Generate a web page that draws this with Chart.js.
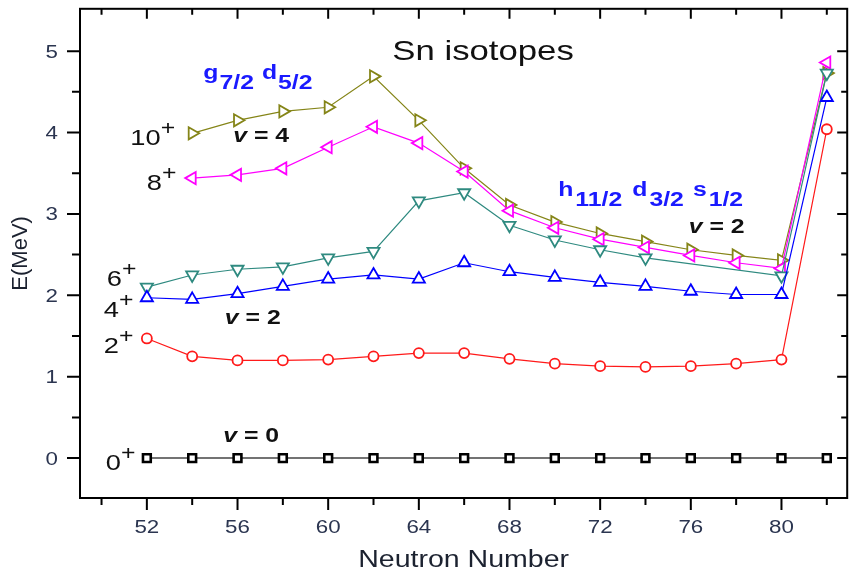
<!DOCTYPE html>
<html lang="en">
<head>
  <meta charset="UTF-8" />
  <title>Sn isotopes</title>
  <script src="https://cdn.jsdelivr.net/npm/chart.js"></script>
  <style>
    body { margin: 0; background: #fff; }
    #wrap { width: 856px; height: 573px; }
  </style>
</head>
<body>
  <div id="wrap"><canvas id="snChart" width="856" height="573"></canvas></div>
  <script>
    // Neutron numbers and level energies (MeV)
    const neutrons = [52, 54, 56, 58, 60, 62, 64, 66, 68, 70, 72, 74, 76, 78, 80, 82];
    const e0  = [0, 0, 0, 0, 0, 0, 0, 0, 0, 0, 0, 0, 0, 0, 0, 0];
    const e2  = [1.47, 1.25, 1.20, 1.20, 1.21, 1.25, 1.29, 1.29, 1.22, 1.16, 1.13, 1.12, 1.13, 1.16, 1.21, 4.04];
    const e4  = [1.97, 1.95, 2.02, 2.11, 2.20, 2.25, 2.20, 2.40, 2.29, 2.22, 2.16, 2.11, 2.05, 2.01, 2.01, 4.43];
    const e6  = [2.10, 2.25, 2.32, 2.35, 2.46, 2.54, 3.16, 3.26, 2.86, 2.68, 2.56, 2.46, null, null, 2.24, 4.73];
    const e8  = [null, 3.44, 3.48, 3.56, 3.82, 4.07, 3.87, 3.52, 3.04, 2.83, 2.69, 2.59, 2.49, 2.40, 2.33, 4.86];
    const e10 = [null, 3.99, 4.15, 4.26, 4.31, 4.69, 4.15, 3.56, 3.11, 2.90, 2.76, 2.66, 2.56, 2.49, 2.43, 4.73];

    // ticks
    const xTicks = [50, 52, 54, 56, 58, 60, 62, 64, 66, 68, 70, 72, 74, 76, 78, 80, 82];
    const xLabels = [52, 56, 60, 64, 68, 72, 76, 80];
    const yTicks = [0, 0.5, 1, 1.5, 2, 2.5, 3, 3.5, 4, 4.5, 5];
    const yLabels = [0, 1, 2, 3, 4, 5];

    const FONT = '"Liberation Sans", Arial, sans-serif';
    const STRETCH = 1.24;

    function pts(vals) {
      return neutrons.map((n, i) => ({ x: n, y: vals[i] }));
    }

    function series(vals, color, style, rot, r, extra) {
      return Object.assign({
        data: pts(vals),
        borderColor: color,
        borderWidth: 1.2,
        pointStyle: style,
        rotation: rot,
        pointRadius: r,
        pointBorderColor: color,
        pointBorderWidth: 1.8,
        pointBackgroundColor: '#fff',
        spanGaps: true,
        tension: 0
      }, extra || {});
    }

    // draw text stretched horizontally like the original figure
    function txt(ctx, s, x, y, font, color, align) {
      ctx.save();
      ctx.font = font;
      ctx.fillStyle = color;
      ctx.textAlign = 'left';
      ctx.textBaseline = 'alphabetic';
      const w = ctx.measureText(s).width * STRETCH;
      const left = align === 'center' ? x - w / 2 : (align === 'right' ? x - w : x);
      ctx.translate(left, y);
      ctx.scale(STRETCH, 1);
      ctx.fillText(s, 0, 0);
      ctx.restore();
      return w;
    }

    // segments: [text, font, dy, gap after]
    function rich(ctx, segs, x, y, color) {
      let cx = x;
      segs.forEach(sg => {
        cx += txt(ctx, sg[0], cx, y + (sg[2] || 0), sg[1], color, 'left') + (sg[3] || 0);
      });
    }

    const LV = '22px ' + FONT, SUP = '20px ' + FONT;
    const BV = 'bold 20px ' + FONT, BIV = 'italic bold 20px ' + FONT;
    const ORB = 'bold 20px ' + FONT;

    // annotation anchors in data units (left edge, baseline)
    const notes = [
      { x: 62.83, y: 4.89, segs: [['Sn isotopes', '28px ' + FONT]], color: '#111' },
      { x: 54.49, y: 4.66, segs: [['g', ORB, 0, 1], ['7/2', ORB, 10, 8], ['d', ORB, 0, 1], ['5/2', ORB, 10]], color: '#1a1aff' },
      { x: 70.15, y: 3.22, segs: [['h', ORB, 0, 2], ['11/2', ORB, 10, 10], ['d', ORB, 0, 2], ['3/2', ORB, 10, 9], ['s', ORB, 0, 2], ['1/2', ORB, 10]], color: '#1a1aff' },
      { x: 51.27, y: 3.85, segs: [['10', LV], ['+', SUP, -10]], color: '#111' },
      { x: 52.0, y: 3.30, segs: [['8', LV], ['+', SUP, -10]], color: '#111' },
      { x: 50.23, y: 2.12, segs: [['6', LV], ['+', SUP, -10]], color: '#111' },
      { x: 50.10, y: 1.73, segs: [['4', LV], ['+', SUP, -10]], color: '#111' },
      { x: 50.10, y: 1.29, segs: [['2', LV], ['+', SUP, -10]], color: '#111' },
      { x: 50.19, y: -0.15, segs: [['0', LV], ['+', SUP, -10]], color: '#111' },
      { x: 55.81, y: 3.88, segs: [['v', BIV], [' = 4', BV]], color: '#111' },
      { x: 55.44, y: 1.65, segs: [['v', BIV], [' = 2', BV]], color: '#111' },
      { x: 55.37, y: 0.20, segs: [['v', BIV], [' = 0', BV]], color: '#111' },
      { x: 75.91, y: 2.77, segs: [['v', BIV], [' = 2', BV]], color: '#111' }
    ];

    const framePlugin = {
      id: 'frame',
      afterDraw(chart) {
        const ctx = chart.ctx, a = chart.chartArea;
        const xs = chart.scales.x, ys = chart.scales.y;
        ctx.save();
        ctx.strokeStyle = '#000';
        ctx.lineWidth = 2;
        ctx.strokeRect(a.left, a.top, a.right - a.left, a.bottom - a.top);
        ctx.beginPath();
        xTicks.forEach(v => {
          const px = xs.getPixelForValue(v);
          const major = xLabels.includes(v);
          ctx.moveTo(px, a.bottom); ctx.lineTo(px, a.bottom + (major ? 12 : 7));
          ctx.moveTo(px, a.top); ctx.lineTo(px, a.top + (major ? 10 : 6));
        });
        yTicks.forEach(v => {
          const py = ys.getPixelForValue(v);
          const major = yLabels.includes(v);
          ctx.moveTo(a.left, py); ctx.lineTo(a.left - (major ? 13 : 8), py);
          ctx.moveTo(a.right, py); ctx.lineTo(a.right - (major ? 10 : 6), py);
        });
        ctx.stroke();
        ctx.restore();

        const tickFont = '18px ' + FONT, tickColor = '#2b3550';
        xLabels.forEach(v => txt(ctx, String(v), xs.getPixelForValue(v), a.bottom + 35, tickFont, tickColor, 'center'));
        yLabels.forEach(v => txt(ctx, String(v), a.left - 22, ys.getPixelForValue(v) + 6.5, tickFont, tickColor, 'right'));

        // axis titles
        txt(ctx, 'Neutron Number', (a.left + a.right) / 2, a.bottom + 69, '23px ' + FONT, '#1c2230', 'center');
        ctx.save();
        ctx.translate(27, (a.top + a.bottom) / 2);
        ctx.rotate(-Math.PI / 2);
        ctx.font = '22px ' + FONT;
        ctx.fillStyle = '#1c2230';
        ctx.textAlign = 'center';
        ctx.fillText('E(MeV)', 0, 0);
        ctx.restore();

        notes.forEach(n => rich(ctx, n.segs, xs.getPixelForValue(n.x), ys.getPixelForValue(n.y), n.color));
      }
    };

    new Chart(document.getElementById('snChart'), {
      type: 'line',
      data: {
        datasets: [
          series(e0, '#444', 'rect', 0, 5.5, { borderWidth: 1.5, pointBorderColor: '#000', pointBorderWidth: 2.6 }),
          series(e2, '#ff1a1a', 'circle', 0, 5),
          series(e4, '#0000ff', 'triangle', 0, 7),
          series(e6, '#2f8a80', 'triangle', 180, 7),
          series(e8, '#ff00ff', 'triangle', 270, 7),
          series(e10, '#858518', 'triangle', 90, 7)
        ]
      },
      options: {
        responsive: false,
        animation: false,
        layout: { padding: { left: 0, right: 4, top: 7, bottom: 0 } },
        plugins: { legend: { display: false }, tooltip: { enabled: false } },
        scales: {
          x: {
            type: 'linear', min: 49.05, max: 82.9,
            grid: { display: false }, border: { display: false },
            ticks: { display: false },
            afterBuildTicks: s => { s.ticks = xTicks.map(v => ({ value: v })); },
            afterFit: s => { s.height = 75; }
          },
          y: {
            type: 'linear', min: -0.49, max: 5.52,
            grid: { display: false }, border: { display: false },
            ticks: { display: false },
            afterBuildTicks: s => { s.ticks = yTicks.map(v => ({ value: v })); },
            afterFit: s => { s.width = 80; }
          }
        }
      },
      plugins: [framePlugin]
    });
  </script>
</body>
</html>
